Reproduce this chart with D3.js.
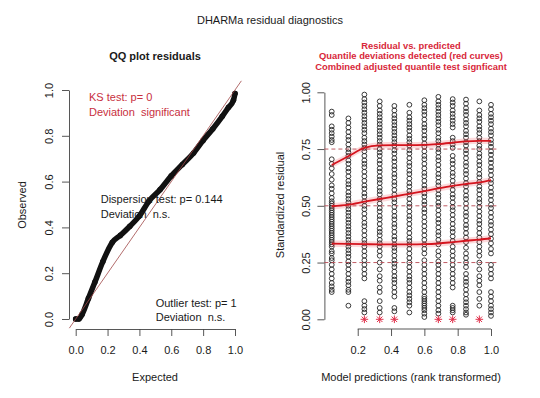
<!DOCTYPE html>
<html>
<head>
<meta charset="utf-8">
<script src="https://cdn.jsdelivr.net/npm/d3@7"></script>
<style>
  body { margin: 0; background: #fff; }
  svg { display: block; font-family: "Liberation Sans", Arial, sans-serif; }
  text { white-space: pre; }
</style>
</head>
<body>
<svg width="540" height="398"></svg>
<script>
var svg = d3.select('svg');

// QQ plot: expected vs observed quantiles
var qqExpected = [0.00, 0.02, 0.04, 0.08, 0.12, 0.17, 0.23, 0.28, 0.34, 0.40, 0.46, 0.53, 0.60, 0.67, 0.74, 0.80, 0.86, 0.92, 0.96, 0.99, 1.00];
var qqObserved = [0.00, 0.00, 0.02, 0.09, 0.16, 0.25, 0.335, 0.365, 0.405, 0.45, 0.515, 0.565, 0.625, 0.675, 0.725, 0.78, 0.83, 0.885, 0.925, 0.955, 0.985];

// residual vs predicted: rank transformed predictions (one column each)
var predRank = [0.044, 0.144, 0.24, 0.332, 0.42, 0.51, 0.60, 0.684, 0.77, 0.85, 0.93, 1.0];

var res01 = [0.915,0.90,0.85,0.835,0.82,0.805,0.79,0.78,0.705,0.685,0.665,0.64,0.615,0.59,0.575,0.555,0.535,0.52,0.51,0.50,0.49,0.48,0.47,0.46,0.45,0.44,0.43,0.42,0.41,0.40,0.39,0.38,0.37,0.36,0.35,0.34,0.33,0.32,0.30,0.29,0.27,0.26,0.24,0.22,0.20,0.18,0.16,0.145,0.13,0.12];
var res02 = [0.885,0.865,0.845,0.825,0.805,0.79,0.77,0.75,0.735,0.72,0.70,0.685,0.665,0.65,0.63,0.61,0.595,0.58,0.56,0.545,0.53,0.515,0.50,0.485,0.47,0.455,0.44,0.425,0.41,0.395,0.38,0.365,0.35,0.335,0.32,0.305,0.29,0.275,0.255,0.24,0.22,0.20,0.18,0.165,0.15,0.13,0.12,0.06];
var res03 = [0.99,0.97,0.955,0.94,0.925,0.91,0.895,0.88,0.865,0.85,0.835,0.82,0.80,0.785,0.77,0.755,0.74,0.72,0.70,0.685,0.67,0.65,0.63,0.61,0.59,0.575,0.555,0.54,0.52,0.50,0.485,0.465,0.445,0.425,0.41,0.39,0.37,0.35,0.335,0.32,0.30,0.28,0.26,0.24,0.22,0.20,0.18,0.08,0.06,0.045,0.03,0];
var res04 = [0.96,0.94,0.92,0.905,0.89,0.875,0.86,0.845,0.83,0.815,0.80,0.785,0.77,0.75,0.735,0.72,0.70,0.685,0.665,0.65,0.63,0.615,0.60,0.58,0.565,0.55,0.53,0.51,0.49,0.475,0.455,0.44,0.42,0.40,0.385,0.37,0.35,0.335,0.32,0.30,0.28,0.25,0.22,0.19,0.17,0.14,0.12,0.08,0.05,0.03,0];
var res05 = [0.94,0.92,0.90,0.885,0.87,0.855,0.84,0.825,0.81,0.795,0.78,0.765,0.745,0.73,0.71,0.695,0.675,0.66,0.64,0.625,0.605,0.59,0.57,0.55,0.53,0.515,0.495,0.475,0.455,0.44,0.42,0.405,0.385,0.365,0.35,0.33,0.315,0.30,0.28,0.26,0.245,0.23,0.21,0.19,0.175,0.16,0.14,0.12,0.10,0.05,0.035,0];
var res06 = [0.945,0.91,0.89,0.875,0.86,0.845,0.83,0.81,0.795,0.78,0.765,0.745,0.73,0.71,0.69,0.675,0.655,0.64,0.62,0.60,0.585,0.565,0.55,0.53,0.51,0.495,0.475,0.455,0.44,0.42,0.40,0.38,0.36,0.345,0.33,0.31,0.29,0.27,0.25,0.23,0.21,0.19,0.175,0.16,0.14,0.12,0.105,0.09,0.075,0.06,0.03];
var res07 = [0.965,0.945,0.93,0.915,0.90,0.88,0.86,0.845,0.83,0.81,0.795,0.775,0.76,0.74,0.72,0.705,0.685,0.665,0.645,0.63,0.61,0.59,0.575,0.555,0.54,0.52,0.505,0.485,0.47,0.45,0.43,0.41,0.39,0.37,0.35,0.33,0.31,0.29,0.26,0.24,0.22,0.20,0.18,0.16,0.14,0.12,0.10,0.09,0.08,0.07,0.06,0.05,0.04,0.025,0.01];
var res08 = [0.98,0.96,0.945,0.93,0.915,0.90,0.885,0.87,0.855,0.835,0.82,0.80,0.785,0.77,0.75,0.735,0.715,0.70,0.68,0.66,0.64,0.625,0.605,0.59,0.57,0.55,0.535,0.515,0.50,0.48,0.46,0.44,0.425,0.405,0.385,0.37,0.35,0.33,0.30,0.28,0.255,0.24,0.22,0.20,0.18,0.16,0.14,0.12,0.10,0.08,0.06,0.04,0.025,0];
var res09 = [0.97,0.955,0.94,0.92,0.905,0.89,0.875,0.86,0.845,0.80,0.785,0.77,0.755,0.72,0.70,0.685,0.665,0.645,0.63,0.61,0.59,0.57,0.55,0.535,0.515,0.495,0.48,0.46,0.44,0.42,0.40,0.385,0.365,0.345,0.32,0.30,0.28,0.26,0.24,0.22,0.20,0.18,0.16,0.14,0.06,0.05,0.04,0.03,0];
var res10 = [0.968,0.95,0.93,0.915,0.90,0.88,0.865,0.85,0.83,0.815,0.80,0.78,0.765,0.745,0.73,0.71,0.69,0.675,0.655,0.64,0.62,0.60,0.585,0.565,0.545,0.53,0.51,0.49,0.47,0.455,0.435,0.415,0.40,0.38,0.36,0.34,0.315,0.29,0.27,0.25,0.23,0.20,0.18,0.165,0.15,0.13,0.11,0.09,0.075,0.06,0.045,0.03,0.02];
var res11 = [0.96,0.92,0.90,0.885,0.87,0.85,0.835,0.82,0.80,0.785,0.765,0.75,0.73,0.715,0.695,0.68,0.66,0.64,0.625,0.605,0.585,0.57,0.55,0.53,0.515,0.495,0.475,0.455,0.435,0.42,0.40,0.38,0.36,0.34,0.32,0.30,0.28,0.25,0.22,0.19,0.17,0.15,0.12,0.09,0.06,0];
var res12 = [0.945,0.925,0.905,0.89,0.875,0.86,0.84,0.825,0.81,0.79,0.775,0.76,0.74,0.725,0.705,0.69,0.67,0.655,0.635,0.615,0.60,0.58,0.56,0.545,0.525,0.505,0.49,0.47,0.45,0.43,0.415,0.395,0.375,0.355,0.335,0.31,0.29,0.24,0.22,0.20,0.18,0.12,0.10,0.08,0.06,0.045,0.03,0.015];
var residualColumns = [res01, res02, res03, res04, res05, res06, res07, res08, res09, res10, res11, res12];

// fitted quantile curves (at each predRank)
var q25 = [0.333, 0.332, 0.331, 0.330, 0.330, 0.330, 0.331, 0.334, 0.340, 0.346, 0.351, 0.357];
var q50 = [0.498, 0.505, 0.518, 0.530, 0.541, 0.553, 0.565, 0.577, 0.588, 0.596, 0.603, 0.613];
var q75 = [0.680, 0.718, 0.755, 0.766, 0.767, 0.767, 0.768, 0.772, 0.778, 0.784, 0.786, 0.786];
var quantileLevels = [0.25, 0.5, 0.75];

var axisTicks = [0, 0.2, 0.4, 0.6, 0.8, 1.0];
var resTicksY = [0, 0.25, 0.5, 0.75, 1.0];
var resTicksX = [0.2, 0.4, 0.6, 0.8, 1.0];

var red = '#d8283a';
var ink = '#1a1a1a';

// scales
var xQ = d3.scaleLinear().domain([0, 1]).range([75.7, 235]);
var yQ = d3.scaleLinear().domain([0, 1]).range([319, 90]);
var xR = d3.scaleLinear().domain([0, 1]).range([324.4, 491]);
var yR = d3.scaleLinear().domain([0, 1]).range([319.3, 92.3]);

// titles
svg.append('text').attr('x', 270).attr('y', 24).attr('text-anchor', 'middle')
    .attr('font-size', 11).attr('fill', ink).text('DHARMa residual diagnostics');
svg.append('text').attr('x', 155).attr('y', 60).attr('text-anchor', 'middle')
    .attr('font-size', 11).attr('font-weight', 'bold').attr('fill', ink).text('QQ plot residuals');

var rightTitles = ['Residual vs. predicted', 'Quantile deviations detected (red curves)', 'Combined adjusted quantile test signficant'];
svg.selectAll('.rtitle')
    .data(rightTitles)
    .enter()
    .append('text')
    .attr('class', 'rtitle')
    .attr('x', 411)
    .attr('y', function(d, i){ return 48.5 + i * 10.8; })
    .attr('text-anchor', 'middle')
    .attr('font-size', 9.4)
    .attr('font-weight', 'bold')
    .attr('fill', red)
    .text(function(d){ return d; });

/* ---------- left panel: QQ plot ---------- */
function styleAxis(g){
    g.selectAll('.domain').attr('stroke', '#444').attr('stroke-width', 0.9);
    g.selectAll('.tick line').attr('stroke', '#444').attr('stroke-width', 0.9);
    g.selectAll('.tick text').attr('fill', ink).attr('font-size', 11)
        .attr('font-family', '"Liberation Sans", Arial, sans-serif');
}

var gxQ = svg.append('g').attr('transform', 'translate(0,329)')
    .call(d3.axisBottom(xQ).tickValues(axisTicks).tickFormat(d3.format('.1f')).tickSize(7).tickSizeOuter(0));
gxQ.selectAll('.tick text').attr('y', 17).attr('dy', '0.71em');
styleAxis(gxQ);

var gyQ = svg.append('g').attr('transform', 'translate(69,0)')
    .call(d3.axisLeft(yQ).tickValues(axisTicks).tickFormat(d3.format('.1f')).tickSize(7).tickSizeOuter(0));
gyQ.selectAll('.tick text')
    .attr('transform', 'rotate(-90)')
    .attr('x', 0).attr('y', -16).attr('dy', 0)
    .attr('text-anchor', 'middle');
styleAxis(gyQ);

svg.append('text').attr('x', 155).attr('y', 381).attr('text-anchor', 'middle')
    .attr('font-size', 11).attr('fill', ink).text('Expected');
svg.append('text').attr('transform', 'translate(26,205) rotate(-90)').attr('text-anchor', 'middle')
    .attr('font-size', 11).attr('fill', ink).text('Observed');

// QQ points as a thick band
var qqData = qqExpected.map(function(e, i){ return {e: e, o: qqObserved[i]}; });
svg.append('path')
    .datum(qqData)
    .attr('d', d3.line().x(function(d){ return xQ(d.e); }).y(function(d){ return yQ(d.o); }).curve(d3.curveMonotoneX))
    .attr('fill', 'none')
    .attr('stroke', '#111')
    .attr('stroke-width', 5.5)
    .attr('stroke-linejoin', 'round')
    .attr('stroke-linecap', 'round');
svg.selectAll('.qqpt')
    .data(qqData)
    .enter()
    .append('circle')
    .attr('class', 'qqpt')
    .attr('cx', function(d){ return xQ(d.e); })
    .attr('cy', function(d){ return yQ(d.o); })
    .attr('r', 2.8)
    .attr('fill', '#111');

// 1:1 line across the plot region
svg.append('line')
    .attr('x1', xQ(-0.04)).attr('y1', yQ(-0.04))
    .attr('x2', xQ(1.04)).attr('y2', yQ(1.04))
    .attr('stroke', '#a04848')
    .attr('stroke-width', 0.8);

var testText = [
    {t: 'KS test: p= 0', x: 89, y: 101, c: '#c8303e'},
    {t: 'Deviation  significant', x: 89, y: 115.5, c: '#c8303e'},
    {t: 'Dispersion test: p= 0.144', x: 100.7, y: 203.3, c: ink},
    {t: 'Deviation  n.s.', x: 100.7, y: 218, c: ink},
    {t: 'Outlier test: p= 1', x: 155.7, y: 306.5, c: ink},
    {t: 'Deviation  n.s.', x: 155.7, y: 321, c: ink}
];
svg.selectAll('.testtxt')
    .data(testText)
    .enter()
    .append('text')
    .attr('class', 'testtxt')
    .attr('x', function(d){ return d.x; })
    .attr('y', function(d){ return d.y; })
    .attr('font-size', 11)
    .attr('fill', function(d){ return d.c; })
    .text(function(d){ return d.t; });

/* ---------- right panel: residual vs predicted ---------- */
var gxR = svg.append('g').attr('transform', 'translate(0,329)')
    .call(d3.axisBottom(xR).tickValues(resTicksX).tickFormat(d3.format('.1f')).tickSize(7).tickSizeOuter(0));
gxR.select('.domain').attr('d', 'M' + xR(0.2) + ',0H' + xR(1));
gxR.selectAll('.tick text').attr('y', 17).attr('dy', '0.71em');
styleAxis(gxR);

var gyR = svg.append('g').attr('transform', 'translate(' + xR(0) + ',0)')
    .call(d3.axisLeft(yR).tickValues(resTicksY).tickFormat(d3.format('.2f')).tickSize(7).tickSizeOuter(0));
gyR.selectAll('.tick text')
    .attr('transform', 'rotate(-90)')
    .attr('x', 0).attr('y', -14.5).attr('dy', 0)
    .attr('text-anchor', 'middle');
styleAxis(gyR);

svg.append('text').attr('x', 411).attr('y', 381).attr('text-anchor', 'middle')
    .attr('font-size', 11).attr('fill', ink).text('Model predictions (rank transformed)');
svg.append('text').attr('transform', 'translate(284,205) rotate(-90)').attr('text-anchor', 'middle')
    .attr('font-size', 11).attr('fill', ink).text('Standardized residual');

// points
var resPoints = [];
residualColumns.forEach(function(col, i){
    col.forEach(function(v){ resPoints.push({x: predRank[i], y: v}); });
});

svg.selectAll('.respt')
    .data(resPoints.filter(function(d){ return d.y > 0; }))
    .enter()
    .append('circle')
    .attr('class', 'respt')
    .attr('cx', function(d){ return xR(d.x); })
    .attr('cy', function(d){ return yR(d.y); })
    .attr('r', 2.4)
    .attr('fill', 'none')
    .attr('stroke', '#262626')
    .attr('stroke-width', 0.9);

// outliers at 0 as red stars
var s = 3.8, k = s * 0.72;
svg.selectAll('.outl')
    .data(resPoints.filter(function(d){ return d.y === 0; }))
    .enter()
    .append('path')
    .attr('class', 'outl')
    .attr('transform', function(d){ return 'translate(' + xR(d.x) + ',' + yR(d.y) + ')'; })
    .attr('d', 'M' + (-s) + ',0H' + s + 'M0,' + (-s) + 'V' + s +
        'M' + (-k) + ',' + (-k) + 'L' + k + ',' + k + 'M' + (-k) + ',' + k + 'L' + k + ',' + (-k))
    .attr('stroke', '#e0304a')
    .attr('stroke-width', 1)
    .attr('fill', 'none');

// dashed reference lines
svg.selectAll('.hline')
    .data(quantileLevels)
    .enter()
    .append('line')
    .attr('class', 'hline')
    .attr('x1', xR(0)).attr('x2', xR(1.038))
    .attr('y1', function(d){ return yR(d); })
    .attr('y2', function(d){ return yR(d); })
    .attr('stroke', '#b84a52')
    .attr('stroke-width', 0.9)
    .attr('stroke-dasharray', '4,3');

// quantile curves with band
var ci = 0.014;
[q25, q50, q75].forEach(function(q){
    var dat = predRank.map(function(x, i){ return {x: x, y: q[i]}; });
    svg.append('path')
        .datum(dat)
        .attr('d', d3.area()
            .x(function(d){ return xR(d.x); })
            .y0(function(d){ return yR(d.y - ci); })
            .y1(function(d){ return yR(d.y + ci); })
            .curve(d3.curveMonotoneX))
        .attr('fill', 'rgba(240,80,90,0.22)');
    svg.append('path')
        .datum(dat)
        .attr('d', d3.line()
            .x(function(d){ return xR(d.x); })
            .y(function(d){ return yR(d.y); })
            .curve(d3.curveMonotoneX))
        .attr('fill', 'none')
        .attr('stroke', '#d4141e')
        .attr('stroke-width', 1.8);
});
</script>
</body>
</html>
